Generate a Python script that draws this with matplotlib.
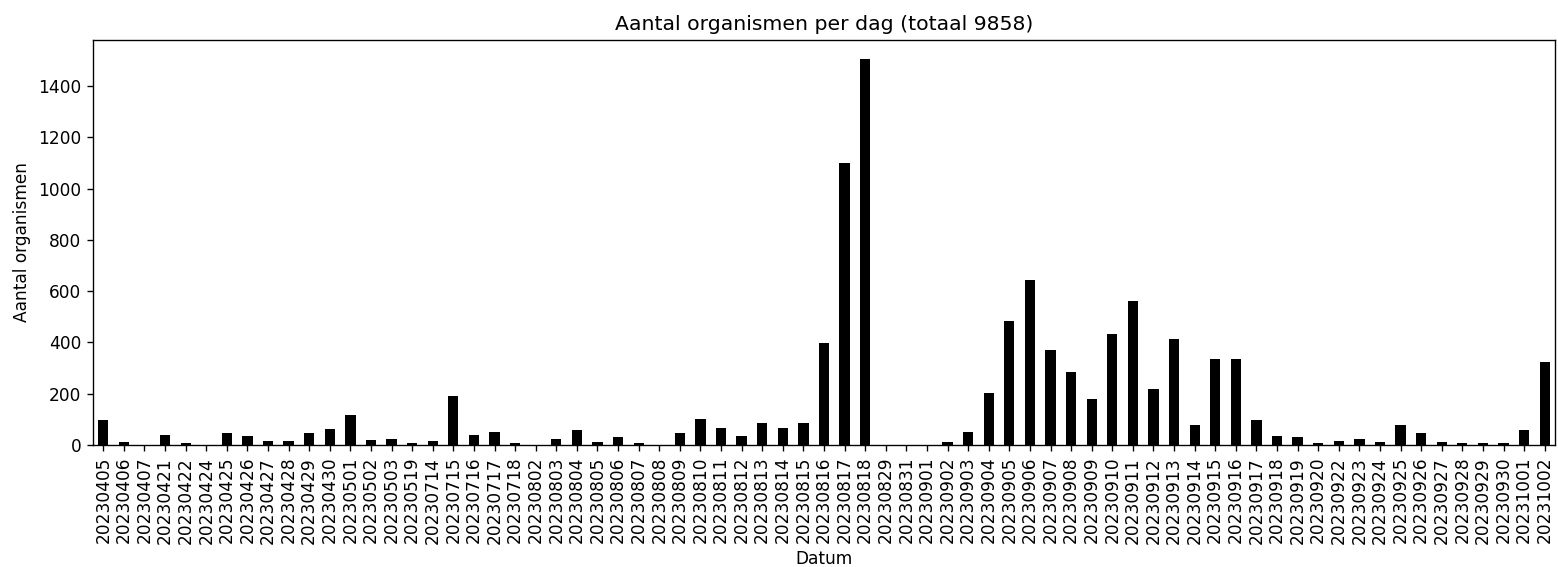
import matplotlib
matplotlib.use("Agg")
import matplotlib.pyplot as plt
import numpy as np

dates = ["20230405", "20230406", "20230407", "20230421", "20230422", "20230424",
         "20230425", "20230426", "20230427", "20230428", "20230429", "20230430",
         "20230501", "20230502", "20230503", "20230519", "20230714", "20230715",
         "20230716", "20230717", "20230718", "20230802", "20230803", "20230804",
         "20230805", "20230806", "20230807", "20230808", "20230809", "20230810",
         "20230811", "20230812", "20230813", "20230814", "20230815", "20230816",
         "20230817", "20230818", "20230829", "20230831", "20230901", "20230902",
         "20230903", "20230904", "20230905", "20230906", "20230907", "20230908",
         "20230909", "20230910", "20230911", "20230912", "20230913", "20230914",
         "20230915", "20230916", "20230917", "20230918", "20230919", "20230920",
         "20230922", "20230923", "20230924", "20230925", "20230926", "20230927",
         "20230928", "20230929", "20230930", "20231001", "20231002"]

counts = [98, 10, 0, 39, 6, 0, 45, 34, 16, 16, 45, 64, 117, 20, 25, 6, 14, 190,
          39, 50, 6, 0, 25, 59, 10, 30, 6, 0, 45, 102, 68, 34, 87, 68, 87, 398,
          1101, 1504, 0, 0, 0, 10, 52, 204, 484, 645, 371, 285, 178, 434, 562, 217,
          414, 78, 336, 336, 98, 34, 30, 6, 14, 25, 10, 78, 45, 10, 6, 6, 6, 59, 324]

dpi = 122
fig = plt.figure(figsize=(1558 / dpi, 567 / dpi), dpi=dpi)
ax = fig.add_axes([93 / 1558, 1 - 445 / 567, 1462 / 1558, 405 / 567])
x = np.arange(len(dates))
ax.bar(x, counts, width=0.5, color="black")
ax.set_xlim(-0.5, len(dates) - 0.5)
ax.set_ylim(0, max(counts) * 1.05)
ax.set_xticks(x)
ax.set_xticklabels(dates, rotation=90)
ax.set_title(f"Aantal organismen per dag (totaal {9858})")
ax.set_xlabel("Datum")
ax.set_ylabel("Aantal organismen")
fig.savefig("out.png", dpi=dpi)
